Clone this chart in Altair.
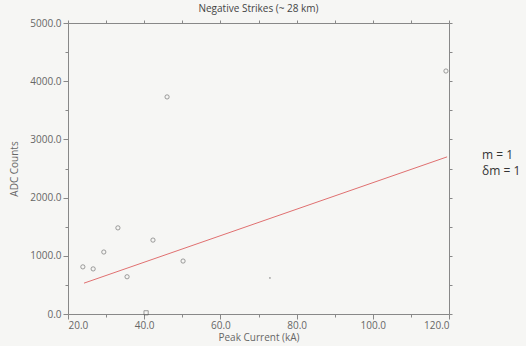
import altair as alt
import pandas as pd

peak_current = [23.9, 26.6, 29.4, 33.1, 35.5, 40.5, 42.3, 46.0, 50.2, 73.0, 119.2]
adc_counts = [810, 775, 1065, 1480, 640, 20, 1270, 3730, 910, 620, 4175]
shapes = ["circle", "circle", "circle", "circle", "circle", "square", "circle", "circle", "circle", "dot", "circle"]

fit_x = [24.2, 119.5]
fit_y = [530, 2700]

annot = ["m = 1", "δm = 1"]

pts = pd.DataFrame({"x": peak_current, "y": adc_counts, "s": shapes})
fit = pd.DataFrame({"x": fit_x, "y": fit_y})

FONT = "Open Sans"
GRAY = "#888888"
LAB = "#666666"

xscale = alt.Scale(domain=[20, 120], nice=False, zero=False)
yscale = alt.Scale(domain=[0, 5000], nice=False, zero=False)

xvals = list(range(20, 121, 10))
yvals = list(range(0, 5001, 500))

x_bottom = alt.Axis(values=xvals, format=".1f", title="Peak Current (kA)",
                    labelExpr="datum.value % 20 === 0 ? format(datum.value, '.1f') : ''",
                    tickSize={"condition": {"test": "datum.value % 20 === 0", "value": 5}, "value": 3},
                    domainColor=GRAY, tickColor=GRAY, labelColor=LAB, titleColor=LAB,
                    labelFont=FONT, titleFont=FONT, labelFontSize=10, titleFontSize=10,
                    titleFontWeight="normal", grid=False, labelPadding=1, titlePadding=2)
y_left = alt.Axis(values=yvals, title="ADC Counts",
                  labelExpr="datum.value % 1000 === 0 ? format(datum.value, '.1f') : ''",
                  tickSize={"condition": {"test": "datum.value % 1000 === 0", "value": 5}, "value": 3},
                  domainColor=GRAY, tickColor=GRAY, labelColor=LAB, titleColor=LAB,
                  labelFont=FONT, titleFont=FONT, labelFontSize=10, titleFontSize=10,
                  titleFontWeight="normal", grid=False, titlePadding=10)
x_top = alt.Axis(values=xvals, orient="top", labels=False, title=None, tickSize=3,
                 domainColor=GRAY, tickColor=GRAY, grid=False)
y_right = alt.Axis(values=yvals, orient="right", labels=False, title=None, tickSize=3,
                   domainColor=GRAY, tickColor=GRAY, grid=False)

base_pts = alt.Chart(pts)

circles = base_pts.transform_filter("datum.s === 'circle'").mark_point(
    shape="circle", filled=False, size=18, color="#555555", strokeWidth=0.8
).encode(x=alt.X("x:Q", scale=xscale, axis=x_bottom), y=alt.Y("y:Q", scale=yscale, axis=y_left))

squares = base_pts.transform_filter("datum.s === 'square'").mark_point(
    shape="square", filled=False, size=18, color="#555555", strokeWidth=0.8
).encode(x=alt.X("x:Q", scale=xscale, axis=None), y=alt.Y("y:Q", scale=yscale, axis=None))

dots = base_pts.transform_filter("datum.s === 'dot'").mark_point(
    shape="circle", filled=True, size=3, color="#777777"
).encode(x=alt.X("x:Q", scale=xscale, axis=None), y=alt.Y("y:Q", scale=yscale, axis=None))

line = alt.Chart(fit).mark_line(color="#e07070", strokeWidth=1).encode(
    x=alt.X("x:Q", scale=xscale, axis=x_top), y=alt.Y("y:Q", scale=yscale, axis=y_right))

text_df = pd.DataFrame({"t": annot, "py": [132, 148]})
texts = alt.Chart(text_df).mark_text(align="left", baseline="middle", font=FONT,
                                     fontSize=12, color="#333333").encode(
    text="t:N", x=alt.value(414), y=alt.Y("py:Q", scale=None, axis=None))

chart = alt.layer(circles, squares, dots, line, texts).resolve_axis(
    x="independent", y="independent"
).properties(
    width=381, height=291,
    title=alt.Title("Negative Strikes (~ 28 km)", font=FONT, fontSize=10,
                    fontWeight="normal", color="#444444", offset=4),
    autosize=alt.AutoSizeParams(type="none"),
    padding={"left": 68, "top": 23, "right": 77, "bottom": 32},
    background="#f6f6f4"
).configure_view(stroke=None)

chart.save("out.html", embed_options={"renderer": "svg", "actions": False})
